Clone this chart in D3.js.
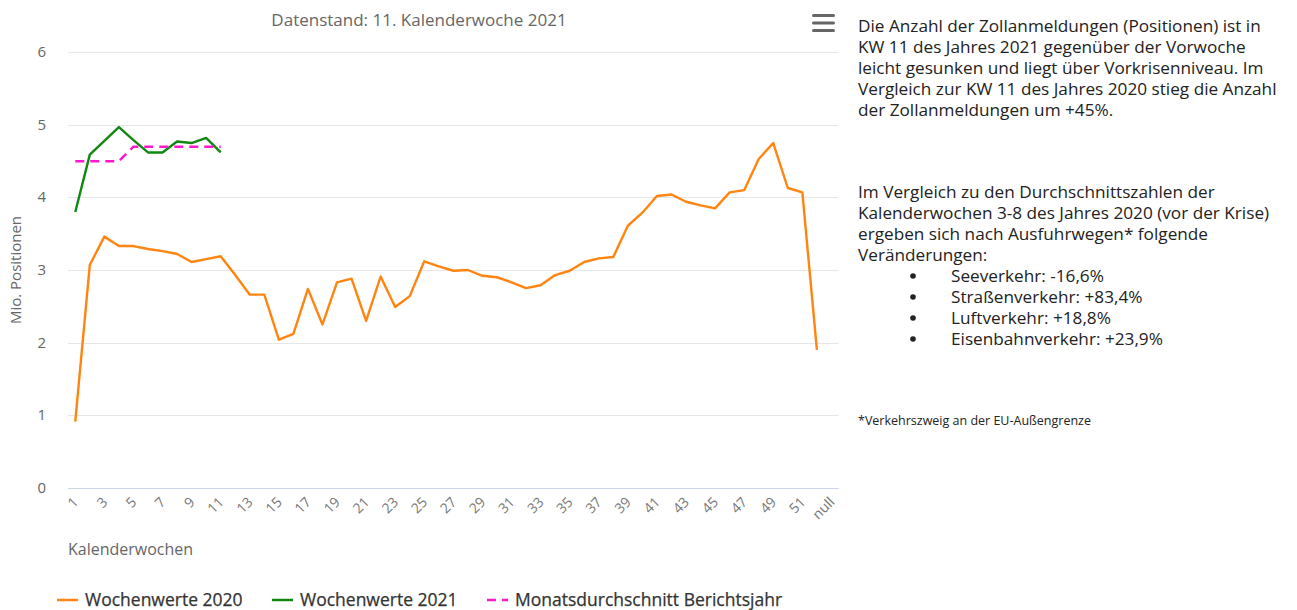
<!DOCTYPE html>
<html>
<head>
<meta charset="utf-8">
<script src="https://cdn.jsdelivr.net/npm/d3@7"></script>
<style>
  body { margin: 0; background: #fff; }
  svg text { font-family: "Open Sans", sans-serif; }
</style>
</head>
<body>
<svg width="1297" height="610"></svg>
<script>
// categories: calendar weeks, last one is labelled "null" in the source
const weeks = d3.range(1, 53).map(String).concat(["null"]);

const values2020 = [0.91, 3.07, 3.46, 3.33, 3.33, 3.29, 3.26, 3.22, 3.11, 3.15,
                    3.19, 2.93, 2.66, 2.66, 2.04, 2.12, 2.74, 2.25, 2.83, 2.88,
                    2.30, 2.91, 2.49, 2.64, 3.12, 3.05, 2.99, 3.00, 2.92, 2.90,
                    2.83, 2.75, 2.79, 2.93, 2.99, 3.11, 3.16, 3.18, 3.61, 3.79,
                    4.02, 4.04, 3.94, 3.89, 3.85, 4.07, 4.10, 4.53, 4.75, 4.13,
                    4.07, 1.90];
const values2021 = [3.80, 4.59, 4.78, 4.97, 4.79, 4.62, 4.62, 4.77, 4.75, 4.82, 4.62];
const monthAvg = [4.50, 4.50, 4.50, 4.50, 4.70, 4.70, 4.70, 4.70, 4.70, 4.70, 4.70];

const yTicks = [0, 1, 2, 3, 4, 5, 6];
const seriesNames = ["Wochenwerte 2020", "Wochenwerte 2021", "Monatsdurchschnitt Berichtsjahr"];
const seriesColors = ["#ff8410", "#118811", "#ff17d0"];

const introLines = [
  "Die Anzahl der Zollanmeldungen (Positionen) ist in",
  "KW 11 des Jahres 2021 gegenüber der Vorwoche",
  "leicht gesunken und liegt über Vorkrisenniveau. Im",
  "Vergleich zur KW 11 des Jahres 2020 stieg die Anzahl",
  "der Zollanmeldungen um +45%."
];
const compareLines = [
  "Im Vergleich zu den Durchschnittszahlen der",
  "Kalenderwochen 3-8 des Jahres 2020 (vor der Krise)",
  "ergeben sich nach Ausfuhrwegen* folgende",
  "Veränderungen:"
];
const modeLines = [
  "Seeverkehr: -16,6%",
  "Straßenverkehr: +83,4%",
  "Luftverkehr: +18,8%",
  "Eisenbahnverkehr: +23,9%"
];
const footnote = "*Verkehrszweig an der EU-Außengrenze";

const svg = d3.select("svg");
const margin = {top: 52.3, left: 68, right: 458.3, bottom: 122.3};
const width = +svg.attr("width");
const height = +svg.attr("height");

const x = d3.scaleBand()
    .domain(weeks)
    .range([margin.left, width - margin.right]);
const y = d3.scaleLinear()
    .domain([0, 6])
    .range([height - margin.bottom, margin.top]);
const cx = d => x(d) + x.bandwidth() / 2;

// gridlines
svg.append("g").attr("class", "grid")
  .selectAll("line")
  .data(yTicks.slice(1))
  .enter().append("line")
    .attr("x1", margin.left)
    .attr("x2", width - margin.right)
    .attr("y1", d => Math.round(y(d)) + 0.5)
    .attr("y2", d => Math.round(y(d)) + 0.5)
    .style("stroke", "#e6e6e6");

svg.append("line")
    .attr("x1", margin.left)
    .attr("x2", width - margin.right)
    .attr("y1", Math.round(y(0)) + 0.5)
    .attr("y2", Math.round(y(0)) + 0.5)
    .style("stroke", "#ccd6eb");

// y labels
svg.append("g")
  .selectAll("text")
  .data(yTicks)
  .enter().append("text")
    .attr("x", 46)
    .attr("y", d => y(d) + 5)
    .attr("text-anchor", "end")
    .style("font-size", "15px")
    .style("fill", "#666")
    .text(d => d);

svg.append("text")
    .attr("transform", "translate(21," + ((margin.top + height - margin.bottom) / 2) + ") rotate(-90)")
    .attr("text-anchor", "middle")
    .style("font-size", "15px")
    .style("fill", "#666")
    .text("Mio. Positionen");

// x labels, every second week
svg.append("g")
  .selectAll("text")
  .data(weeks.filter((d, i) => i % 2 === 0))
  .enter().append("text")
    .attr("transform", d => "translate(" + (cx(d) + 4) + ",503) rotate(-45)")
    .attr("text-anchor", "end")
    .style("font-size", "14px")
    .style("fill", "#777")
    .text(d => d);

svg.append("text")
    .attr("x", margin.left)
    .attr("y", 555)
    .style("font-size", "16px")
    .style("fill", "#666")
    .text("Kalenderwochen");

svg.append("text")
    .attr("x", 419)
    .attr("y", 26)
    .attr("text-anchor", "middle")
    .style("font-size", "17px")
    .style("fill", "#666")
    .text("Datenstand: 11. Kalenderwoche 2021");

// menu icon
svg.append("g").selectAll("rect")
  .data([0, 1, 2])
  .enter().append("rect")
    .attr("x", 812)
    .attr("y", d => 14 + d * 7.5)
    .attr("width", 23)
    .attr("height", 3)
    .attr("rx", 1.5)
    .style("fill", "#666");

// series
const line = d3.line()
    .x((d, i) => cx(weeks[i]))
    .y(d => y(d));

const series = [values2020, values2021, monthAvg];
svg.append("g").attr("class", "series")
  .selectAll("path")
  .data(series)
  .enter().append("path")
    .attr("d", line)
    .style("fill", "none")
    .style("stroke", (d, i) => seriesColors[i])
    .style("stroke-width", (d, i) => i === 2 ? 2.5 : 2.4)
    .style("stroke-linejoin", "round")
    .style("stroke-dasharray", (d, i) => i === 2 ? "9,6" : null);

// legend
const legendX = [57, 272, 487];
const legend = svg.append("g").attr("class", "legend")
  .selectAll("g")
  .data(seriesNames)
  .enter().append("g")
    .attr("transform", (d, i) => "translate(" + legendX[i] + ",600)");

legend.append("line")
    .attr("x1", 0).attr("x2", 21)
    .style("stroke", (d, i) => seriesColors[i])
    .style("stroke-width", 2.5)
    .style("stroke-dasharray", (d, i) => i === 2 ? "9,6" : null);

legend.append("text")
    .attr("x", 28)
    .attr("y", 6)
    .style("font-size", "17.5px")
    .style("fill", "#333")
    .style("stroke", "#333")
    .style("stroke-width", 0.25)
    .text(d => d);

// side text
const side = svg.append("g").attr("class", "side")
    .style("font-family", "Lato, sans-serif")
    .style("fill", "#222");

side.selectAll("text.intro")
  .data(introLines)
  .enter().append("text")
    .attr("class", "intro")
    .attr("x", 858)
    .attr("y", (d, i) => 32 + i * 21)
    .style("font-size", "17.2px")
    .text(d => d);

side.selectAll("text.compare")
  .data(compareLines)
  .enter().append("text")
    .attr("class", "compare")
    .attr("x", 858)
    .attr("y", (d, i) => 198 + i * 21)
    .style("font-size", "17.2px")
    .text(d => d);

side.selectAll("text.mode")
  .data(modeLines)
  .enter().append("text")
    .attr("class", "mode")
    .attr("x", 951)
    .attr("y", (d, i) => 282 + i * 21)
    .style("font-size", "17.2px")
    .text(d => d);

side.selectAll("circle")
  .data(modeLines)
  .enter().append("circle")
    .attr("cx", 913)
    .attr("cy", (d, i) => 276 + i * 21)
    .attr("r", 2.8)
    .style("fill", "#222");

side.append("text")
    .attr("x", 858)
    .attr("y", 425)
    .style("font-size", "12.5px")
    .text(footnote);
</script>
</body>
</html>
